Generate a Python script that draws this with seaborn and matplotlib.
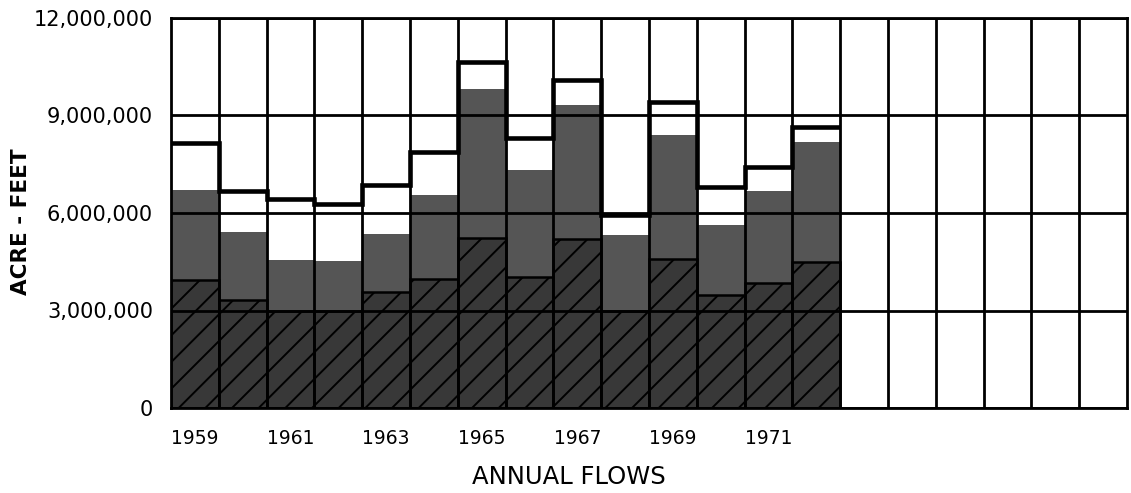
import numpy as np
import pandas as pd
import matplotlib
matplotlib.use("Agg")
import matplotlib.pyplot as plt
from matplotlib.ticker import FuncFormatter
import seaborn as sns

# ---- data (acre-feet) ----
years = [str(y) for y in range(1959, 1973)]
all_years = [str(y) for y in range(1959, 1979)]
total_flow = [8140000, 6690000, 6430000, 6270000, 6860000, 7870000, 10660000,
              8300000, 10090000, 5940000, 9400000, 6790000, 7430000, 8660000]
stippled_flow = [6710000, 5410000, 4550000, 4520000, 5340000, 6550000, 9800000,
                 7320000, 9310000, 5320000, 8400000, 5630000, 6690000, 8190000]
hatched_flow = [3940000, 3320000, 2980000, 2980000, 3560000, 3970000, 5220000,
                4040000, 5190000, 2980000, 4600000, 3480000, 3840000, 4500000]
tick_years = ["1959", "1961", "1963", "1965", "1967", "1969", "1971"]
y_ticks = [0, 3000000, 6000000, 9000000, 12000000]

df = pd.DataFrame({"year": years, "total": total_flow,
                   "stippled": stippled_flow, "hatched": hatched_flow})

DPI = 160
k = 100.0 / DPI  # keep sizes as if drawn at 100 dpi

sns.set_style("white")
plt.rcParams["font.family"] = ["DejaVu Sans"]
plt.rcParams["hatch.linewidth"] = 1.4 * k
plt.rcParams["hatch.color"] = "black"

W, H = 1131, 493
fig = plt.figure(figsize=(W / DPI, H / DPI), dpi=DPI)
ax = fig.add_axes([171 / W, 85 / H, (1127 - 171) / W, (408 - 18) / H])

sns.barplot(data=df, x="year", y="stippled", order=all_years, color="#555555",
            saturation=1, width=1.0, linewidth=0, edgecolor="none",
            errorbar=None, ax=ax)
sns.barplot(data=df, x="year", y="hatched", order=all_years, color="#383838",
            saturation=1, width=1.0, linewidth=1.8 * k, edgecolor="black",
            hatch="//", errorbar=None, ax=ax)

edges = np.arange(-0.5, len(years), 1.0)
ax.stairs(total_flow, edges, baseline=None, color="black", lw=3.3 * k, zorder=5)

ax.set_xlim(-0.5, len(all_years) - 0.5)
ax.set_ylim(0, 12000000)

ax.set_xticks([all_years.index(t) for t in tick_years])
ax.set_xticklabels(tick_years)
ax.set_xticks(np.arange(0.5, len(all_years) - 1, 1.0), minor=True)
ax.set_yticks(y_ticks)
ax.yaxis.set_major_formatter(FuncFormatter(lambda v, p: f"{int(v):,}"))

ax.set_axisbelow(False)
ax.grid(False)
ax.grid(True, which="minor", axis="x", color="black", lw=2.0 * k)
ax.grid(True, which="major", axis="y", color="black", lw=2.0 * k)

ax.tick_params(axis="x", which="both", length=0, pad=15 * k, labelsize=13.5 * k,
               colors="black")
ax.tick_params(axis="y", which="major", length=5 * k, width=1.5 * k,
               direction="out", pad=8 * k, labelsize=15 * k, colors="black")
for s in ax.spines.values():
    s.set_visible(True)
    s.set_color("black")
    s.set_linewidth(2.0 * k)

ax.set_xlabel("")
ax.set_ylabel("")
ax.text((21 - 171) / 956, (408 - 222) / 390, "ACRE - FEET", rotation=90,
        transform=ax.transAxes, ha="center", va="center", fontsize=15.5 * k,
        fontweight="bold", color="black")
ax.text((569 - 171) / 956, (408 - 477) / 390, "ANNUAL FLOWS",
        transform=ax.transAxes, ha="center", va="center", fontsize=17.5 * k,
        color="black")

fig.savefig("out.png", dpi=DPI)
